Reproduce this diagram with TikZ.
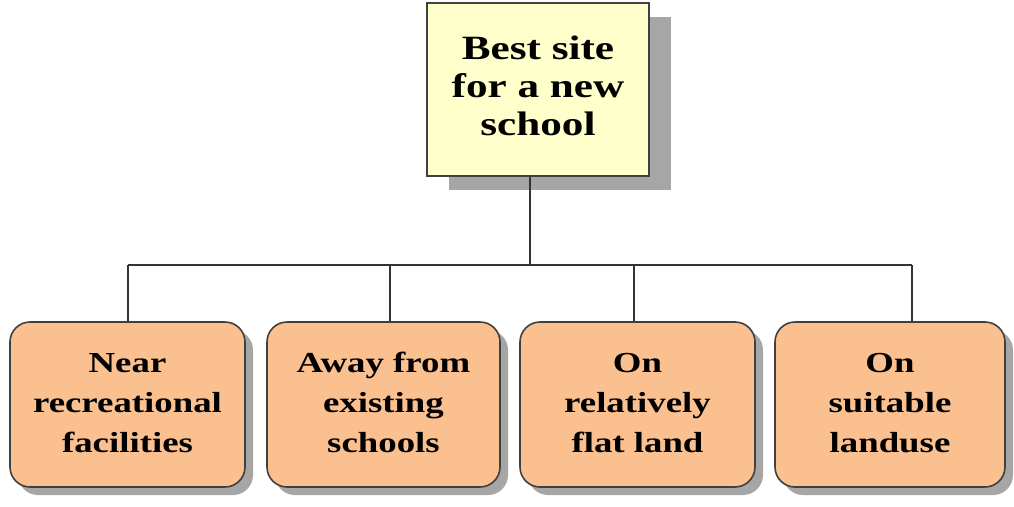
\documentclass[tikz,border=0pt]{standalone}
\usepackage{fontspec}
\setmainfont{Liberation Serif}
\newfontfamily\widefont[FakeStretch=1.27]{Liberation Serif}
\definecolor{topfill}{HTML}{FFFFCC}
\definecolor{subfill}{HTML}{FAC090}
\definecolor{shadowgray}{HTML}{A6A6A6}
\definecolor{edgecol}{HTML}{404040}
\newcommand{\raisedlines}[2]{\raisebox{#1}{\begin{tabular}{@{}c@{}}#2\end{tabular}}}
\tikzset{
  topbox/.style={draw=edgecol, line width=1.6pt, fill=topfill, minimum width=222pt, minimum height=173pt, inner sep=0pt,
    font=\widefont\bfseries\fontsize{34}{38}\selectfont},
  subbox/.style={draw=edgecol, line width=1.6pt, fill=subfill, rounded corners=20pt, minimum height=165pt, inner sep=0pt,
    font=\widefont\bfseries\fontsize{29}{40}\selectfont},
  link/.style={draw=black!80, line width=1.3pt}
}
\begin{document}
\begin{tikzpicture}[x=1pt,y=-1pt]
\useasboundingbox[fill=white] (0,0) rectangle (1014,506);
% shadows
\fill[shadowgray] (449,17) rectangle (671,190);
\fill[shadowgray, rounded corners=20pt] (18,330) rectangle (253,495);
\fill[shadowgray, rounded corners=20pt] (275,330) rectangle (508,495);
\fill[shadowgray, rounded corners=20pt] (528,330) rectangle (763,495);
\fill[shadowgray, rounded corners=20pt] (783,330) rectangle (1013,495);
% nodes
\node[topbox] (top) at (538,89.5) {\raisedlines{10pt}{Best site\\for a new\\school}};
\node[subbox, minimum width=235pt] (a) at (127.5,404.5) {\raisedlines{7pt}{Near\\recreational\\facilities}};
\node[subbox, minimum width=233pt] (b) at (383.5,404.5) {\raisedlines{7pt}{Away from\\existing\\schools}};
\node[subbox, minimum width=235pt] (c) at (637.5,404.5) {\raisedlines{7pt}{On\\relatively\\flat land}};
\node[subbox, minimum width=230pt] (d) at (890,404.5) {\raisedlines{7pt}{On\\suitable\\landuse}};
\coordinate (bar) at (530,265);
\coordinate (ja) at (128,265);
\coordinate (jb) at (390,265);
\coordinate (jc) at (634,265);
\coordinate (jd) at (912,265);
% connectors
\draw[link] (top.south -| bar) -- (bar);
\draw[link] (ja) -- (jd);
\draw[link] (ja) -- (ja |- a.north);
\draw[link] (jb) -- (jb |- b.north);
\draw[link] (jc) -- (jc |- c.north);
\draw[link] (jd) -- (jd |- d.north);
\end{tikzpicture}
\end{document}
